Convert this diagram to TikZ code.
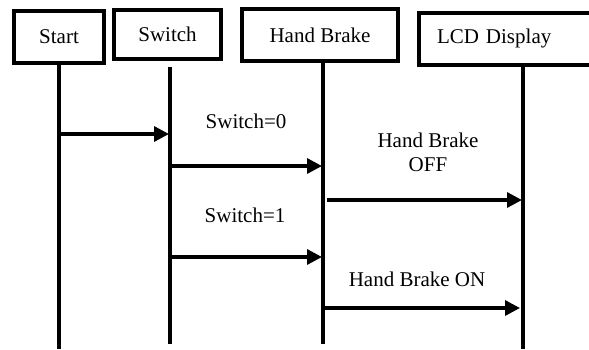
\documentclass[tikz,border=0pt]{standalone}
\usepackage{fontspec}
\setmainfont{Liberation Serif}
\usetikzlibrary{arrows.meta}
\begin{document}
\begin{tikzpicture}[x=1pt, y=-1pt,
  obj node/.style={draw, line width=4pt, minimum height=52pt, inner sep=0pt, font=\fontsize{21}{24}\selectfont},
  life line/.style={line width=3.6pt},
  msg/.style={line width=3.3pt, -{Triangle[length=15pt, width=15pt]}},
  msg label/.style={font=\fontsize{21}{24}\selectfont, align=center, anchor=base}]
  \clip (0,0) rectangle (589,349);
  \node[obj node, minimum width=90pt] (start) at (59,37) {Start};
  \node[obj node, minimum width=107pt, minimum height=49pt] (switch) at (167.5,34.5) {Switch};
  \node[obj node, minimum width=156pt] (brake) at (320,35) {Hand Brake};
  \node[obj node, text width=145pt, inner xsep=18pt, align=left] (lcd) at (509.5,38.5) {LCD Display};
  % life lines
  \coordinate (start end) at (59,349);
  \coordinate (switch top) at (170,67);
  \coordinate (switch end) at (170,344);
  \coordinate (brake end) at (323,344);
  \coordinate (lcd end) at (523,349);
  \draw[life line] (start.south) -- (start end);
  \draw[life line] (switch top) -- (switch end);
  \draw[life line] (brake.south -| brake end) -- (brake end);
  \draw[life line] (lcd.south -| lcd end) -- (lcd end);
  % messages
  \coordinate (m1 a) at (59,134);
  \coordinate (m1 b) at (169,134);
  \coordinate (m2 a) at (170,166);
  \coordinate (m2 b) at (322,166);
  \coordinate (m3 a) at (327,200);
  \coordinate (m3 b) at (522,200);
  \coordinate (m4 a) at (170,257);
  \coordinate (m4 b) at (322,257);
  \coordinate (m5 a) at (323,308);
  \coordinate (m5 b) at (520,308);
  \draw[msg] (m1 a) -- (m1 b);
  \draw[msg] (m2 a) -- (m2 b);
  \draw[msg] (m3 a) -- (m3 b);
  \draw[msg] (m4 a) -- (m4 b);
  \draw[msg] (m5 a) -- (m5 b);
  \node[msg label] (sw0) at (246,128) {Switch=0};
  \node[msg label] (off) at (428,171) {Hand Brake\\OFF};
  \node[msg label] (sw1) at (245,222) {Switch=1};
  \node[msg label] (on) at (417,286) {Hand Brake ON};
\end{tikzpicture}
\end{document}
